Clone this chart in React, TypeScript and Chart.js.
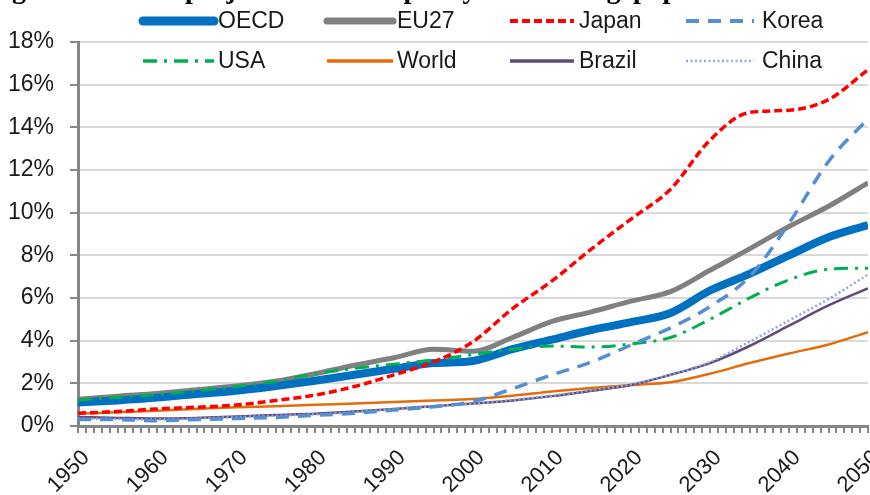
import { useEffect, useRef } from 'react';
import { Chart, registerables } from 'chart.js';

Chart.register(...registerables);

const years = [1950, 1955, 1960, 1965, 1970, 1975, 1980, 1985, 1990, 1995, 2000, 2005, 2010, 2015, 2020, 2025, 2030, 2035, 2040, 2045, 2050];

const oecd = [1.1, 1.2, 1.33, 1.5, 1.65, 1.87, 2.12, 2.4, 2.68, 2.95, 3.05, 3.6, 4.05, 4.5, 4.87, 5.3, 6.35, 7.13, 8.0, 8.85, 9.42];
const eu27 = [1.25, 1.4, 1.52, 1.7, 1.88, 2.1, 2.45, 2.85, 3.2, 3.6, 3.5, 4.15, 4.9, 5.35, 5.85, 6.3, 7.3, 8.3, 9.35, 10.3, 11.4];
const japan = [0.6, 0.68, 0.8, 0.88, 0.98, 1.2, 1.45, 1.85, 2.4, 3.0, 3.95, 5.5, 6.8, 8.3, 9.7, 11.1, 13.4, 14.7, 14.8, 15.3, 16.7];
const korea = [0.3, 0.3, 0.25, 0.3, 0.35, 0.4, 0.5, 0.6, 0.75, 0.9, 1.15, 1.75, 2.4, 3.0, 3.8, 4.6, 5.6, 7.0, 9.5, 12.4, 14.4];
const usa = [1.22, 1.35, 1.48, 1.65, 1.85, 2.1, 2.45, 2.7, 2.9, 3.1, 3.35, 3.6, 3.75, 3.7, 3.85, 4.15, 5.0, 6.0, 6.85, 7.35, 7.4];
const world = [0.58, 0.65, 0.72, 0.8, 0.88, 0.93, 1.0, 1.05, 1.12, 1.2, 1.27, 1.42, 1.62, 1.78, 1.92, 2.05, 2.45, 2.95, 3.4, 3.82, 4.4];
const brazil = [0.42, 0.38, 0.35, 0.38, 0.45, 0.52, 0.58, 0.68, 0.8, 0.93, 1.05, 1.2, 1.4, 1.65, 1.92, 2.4, 2.95, 3.75, 4.7, 5.65, 6.45];
const china = [0.35, 0.33, 0.3, 0.35, 0.42, 0.48, 0.55, 0.65, 0.8, 0.93, 1.05, 1.22, 1.42, 1.68, 1.95, 2.4, 3.0, 3.95, 4.95, 5.95, 7.1];

const seriesNames = ['OECD', 'EU27', 'Japan', 'Korea', 'USA', 'World', 'Brazil', 'China'];
const yTicks = [0, 2, 4, 6, 8, 10, 12, 14, 16, 18];
const xMin = 1950;
const xMax = 2050;

const FONT = '"Liberation Sans", Arial, sans-serif';
const TEXT = '#1a1a1a';
const AXIS = '#868686';

const legendPlugin = {
  id: 'customLegend',
  afterDraw(chart: any) {
    const ctx = chart.ctx;
    const cols = [
      [143, 214, 218],
      [327, 393, 397],
      [510, 574, 579],
      [686, 754, 762],
    ];
    const rows = [21, 61];
    ctx.save();
    chart.data.datasets.forEach((ds: any, i: number) => {
      const c = cols[i % 4];
      const y = rows[Math.floor(i / 4)];
      ctx.beginPath();
      ctx.strokeStyle = ds.borderColor;
      ctx.lineWidth = ds.legendWidth;
      ctx.setLineDash(ds.borderDash || []);
      ctx.lineCap = ds.legendCap || 'butt';
      ctx.moveTo(c[0], y);
      ctx.lineTo(c[1], y);
      ctx.stroke();
      ctx.setLineDash([]);
      ctx.fillStyle = TEXT;
      ctx.font = '23px ' + FONT;
      ctx.textBaseline = 'middle';
      ctx.textAlign = 'left';
      ctx.fillText(ds.label, c[2], y + 1);
    });
    ctx.restore();
  },
};

function pts(vals: number[]) {
  return years.map((yr, i) => ({ x: yr, y: vals[i] }));
}

export default function App() {
  const ref = useRef<HTMLCanvasElement | null>(null);

  useEffect(() => {
    if (!ref.current) return;
    const mk = (label: string, vals: number[], extra: any) => ({
      label,
      data: pts(vals),
      pointRadius: 0,
      cubicInterpolationMode: 'monotone',
      fill: false,
      ...extra,
    });
    const chart = new Chart(ref.current, {
      type: 'line',
      data: {
        datasets: [
          mk(seriesNames[0], oecd, { borderColor: '#0070C0', borderWidth: 8, order: 6, legendWidth: 9, legendCap: 'round' }),
          mk(seriesNames[1], eu27, { borderColor: '#808080', borderWidth: 5, order: 7, legendWidth: 7, legendCap: 'round' }),
          mk(seriesNames[2], japan, { borderColor: '#FF0000', borderWidth: 3.5, borderDash: [8, 4], order: 0, legendWidth: 4 }),
          mk(seriesNames[3], korea, { borderColor: '#558ED5', borderWidth: 3.5, borderDash: [13, 9], order: 1, legendWidth: 4 }),
          mk(seriesNames[4], usa, { borderColor: '#00B050', borderWidth: 3, borderDash: [14, 7, 3, 7], order: 2, legendWidth: 3.5 }),
          mk(seriesNames[5], world, { borderColor: '#E46C0A', borderWidth: 2.5, order: 5, legendWidth: 3.5 }),
          mk(seriesNames[6], brazil, { borderColor: '#604A7B', borderWidth: 2.5, order: 4, legendWidth: 3.5 }),
          mk(seriesNames[7], china, { borderColor: '#8EA9DB', borderWidth: 2.5, borderDash: [2, 2.5], order: 3, legendWidth: 2.5 }),
        ],
      },
      options: {
        responsive: false,
        animation: false,
        devicePixelRatio: 1,
        layout: { padding: { top: 42, right: 2, bottom: 0, left: 0 } },
        plugins: {
          legend: { display: false },
          tooltip: { enabled: false },
          title: { display: false },
        },
        scales: {
          x: {
            type: 'linear',
            min: xMin,
            max: xMax,
            afterFit(scale: any) {
              scale.height = 69;
              scale.paddingLeft = 0;
              scale.paddingRight = 0;
            },
            afterBuildTicks(scale: any) {
              const t = [];
              for (let v = xMin; v <= xMax; v++) t.push({ value: v });
              scale.ticks = t;
            },
            ticks: {
              autoSkip: false,
              maxRotation: 45,
              minRotation: 45,
              padding: 12,
              labelOffset: 8,
              color: TEXT,
              font: { family: FONT, size: 22 },
              callback: (v: any) => (Number(v) % 10 === 0 ? String(v) : ''),
            },
            grid: {
              drawOnChartArea: false,
              drawTicks: true,
              tickLength: 7,
              tickColor: AXIS,
              tickWidth: 2,
              lineWidth: 2,
              color: AXIS,
            },
            border: { display: true, color: AXIS, width: 3 },
          },
          y: {
            min: 0,
            max: 18,
            afterFit(scale: any) { scale.width = 78; },
            afterBuildTicks(scale: any) {
              scale.ticks = yTicks.map((v) => ({ value: v }));
            },
            ticks: {
              padding: 16,
              color: TEXT,
              font: { family: FONT, size: 23 },
              callback: (v: any) => v + '%',
            },
            grid: {
              color: '#d9d9d9',
              lineWidth: 2,
              tickLength: 8,
              tickColor: AXIS,
              tickWidth: 2,
            },
            border: { display: true, color: AXIS, width: 3 },
          },
        },
      } as any,
      plugins: [legendPlugin],
    });
    return () => chart.destroy();
  }, []);

  const titleStyle: any = {
    position: 'absolute',
    top: -25,
    fontFamily: '"Liberation Serif", "Times New Roman", serif',
    fontWeight: 'bold',
    fontSize: 28,
    lineHeight: '28px',
    whiteSpace: 'nowrap',
    color: '#000',
  };

  return (
    <div style={{ position: 'absolute', left: 0, top: 0, width: 870, height: 495, background: '#fff', overflow: 'hidden' }}>
      <canvas ref={ref} width={870} height={495} style={{ position: 'absolute', left: 0, top: 0, width: 870, height: 495 }} />
      <div style={{ position: 'absolute', left: 0, top: 0, width: 870, height: 6, overflow: 'hidden' }}>
        <span style={{ ...titleStyle, left: -13 }}>Figure 1: Share of the</span>
        <span style={{ ...titleStyle, left: 185 }}>projected</span>
        <span style={{ ...titleStyle, left: 377 }}>capacity</span>
        <span style={{ ...titleStyle, left: 521 }}>working</span>
        <span style={{ ...titleStyle, left: 633 }}>population</span>
      </div>
    </div>
  );
}
